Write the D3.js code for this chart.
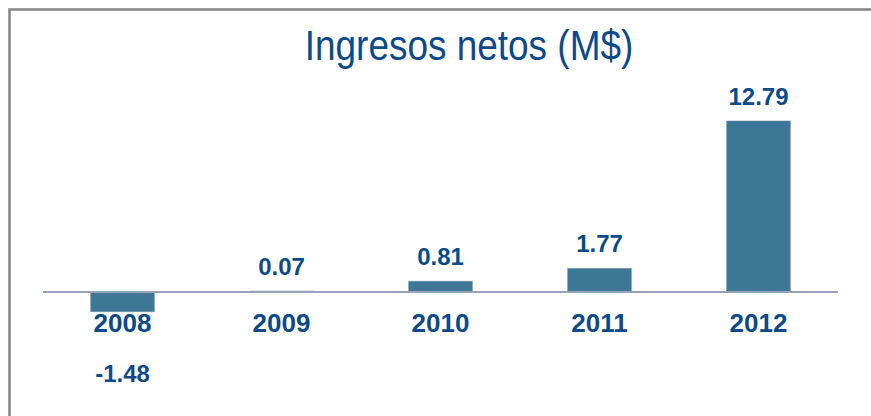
<!DOCTYPE html>
<html>
<head>
<meta charset="utf-8">
<script src="https://cdnjs.cloudflare.com/ajax/libs/d3/7.8.5/d3.min.js"></script>
<style>
body { margin: 0; background: #fff; }
svg { display: block; font-family: "Liberation Sans", Arial, sans-serif; }
</style>
</head>
<body>
<svg id="chart" width="871" height="416"></svg>
<script>
var years = ["2008", "2009", "2010", "2011", "2012"];
var values = [-1.48, 0.07, 0.81, 1.77, 12.79];
var labels = ["-1.48", "0.07", "0.81", "1.77", "12.79"];

var svg = d3.select("#chart");
var textColor = "#0d4a87", barColor = "#3f7796";

// frame
svg.append("path")
	.attr("d", "M9.5,416 V9.5 H871")
	.attr("fill", "none")
	.attr("stroke", "#858585")
	.attr("stroke-width", 2.5);

// title is a bit condensed in the original
svg.append("text")
	.attr("transform", "translate(469,60) scale(0.88,1)")
	.attr("text-anchor", "middle")
	.attr("fill", textColor)
	.style("font-size", "42px")
	.text("Ingresos netos (M$)");

var x = d3.scaleBand().domain(years).range([43, 838]).paddingInner(0.6).paddingOuter(0.3);
var y = d3.scaleLinear().domain([0, d3.max(values)]).range([292, 121]);

var data = years.map(function(d, i) { return {key: d, value: values[i], label: labels[i]}; });

svg.selectAll(".bar")
	.data(data)
  .enter().append("rect")
	.attr("class", "bar")
	.attr("x", function(d) { return x(d.key); })
	.attr("width", x.bandwidth())
	.attr("y", function(d) { return y(Math.max(0, d.value)); })
	.attr("height", function(d) { return Math.max(1, Math.abs(y(d.value) - y(0))); })
	.attr("fill", barColor)
	.attr("stroke", "#6f98b0")
	.attr("stroke-width", 0.6);

// zero line
svg.append("line")
	.attr("x1", 43).attr("x2", 838)
	.attr("y1", y(0)).attr("y2", y(0))
	.attr("stroke", "#9aa2b8")
	.attr("stroke-width", 2);

svg.selectAll(".year")
	.data(data)
  .enter().append("text")
	.attr("class", "year")
	.attr("x", function(d) { return x(d.key) + x.bandwidth() / 2; })
	.attr("y", 332)
	.attr("text-anchor", "middle")
	.attr("fill", textColor)
	.style("font-size", "26px")
	.style("font-weight", "bold")
	.text(function(d) { return d.key; });

svg.selectAll(".val")
	.data(data)
  .enter().append("text")
	.attr("class", "val")
	.attr("x", function(d) { return x(d.key) + x.bandwidth() / 2; })
	.attr("y", function(d) { return d.value < 0 ? y(d.value) + 70 : y(d.value) - 16; })
	.attr("text-anchor", "middle")
	.attr("fill", textColor)
	.style("font-size", "24px")
	.style("font-weight", "bold")
	.text(function(d) { return d.label; });
</script>
</body>
</html>
